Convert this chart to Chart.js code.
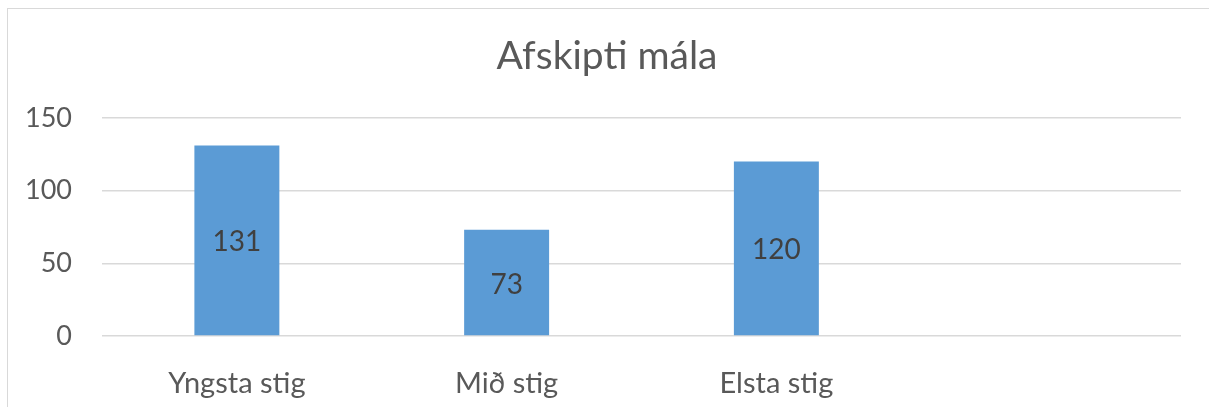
<!DOCTYPE html>
<html>
<head>
<meta charset="utf-8">
<script src="https://cdn.jsdelivr.net/npm/chart.js@4/dist/chart.umd.min.js"></script>
<style>
    html, body { margin: 0; padding: 0; background: #fff; }
    #wrap { position: relative; width: 1209px; height: 407px; overflow: hidden; }
    #frame {
        position: absolute; left: 7px; top: 8px; width: 1230px; height: 430px;
        border: 1.5px solid #d9d9d9; pointer-events: none;
    }
</style>
</head>
<body>
<div id="wrap">
    <canvas id="reportChart" width="1209" height="407"></canvas>
    <div id="frame"></div>
</div>
<script>
// Chart data
const chartTitle = 'Afskipti mála';
const categories = ['Yngsta stig', 'Mið stig', 'Elsta stig', ''];
const values = [131, 73, 120, null];
const yTicks = [0, 50, 100, 150];

const fontFamily = 'Lato, "Open Sans", sans-serif';
const textColor = '#595959';

// Draw the value in the middle of each bar
const barValueLabels = {
    id: 'barValueLabels',
    afterDatasetsDraw(chart) {
        const ctx = chart.ctx;
        const meta = chart.getDatasetMeta(0);
        ctx.save();
        ctx.font = '28px ' + fontFamily;
        ctx.fillStyle = '#404040';
        ctx.textAlign = 'center';
        ctx.textBaseline = 'middle';
        meta.data.forEach((bar, i) => {
            if (values[i] == null) return;
            const { x, y, base } = bar.getProps(['x', 'y', 'base'], true);
            ctx.fillText(String(values[i]), x, (y + base) / 2 + 2);
        });
        ctx.restore();
    }
};

const ctx = document.getElementById('reportChart').getContext('2d');
new Chart(ctx, {
    type: 'bar',
    data: {
        labels: categories,
        datasets: [{
            label: chartTitle,
            data: values,
            backgroundColor: '#5b9bd5',
            borderWidth: 0,
            categoryPercentage: 1,
            barPercentage: 0.315
        }]
    },
    options: {
        responsive: false,
        animation: false,
        layout: { padding: { top: 5, right: 0, bottom: 0, left: 5 } },
        plugins: {
            legend: { display: false },
            tooltip: { enabled: false },
            title: {
                display: true,
                text: chartTitle,
                color: textColor,
                font: { family: fontFamily, size: 39, weight: 'normal' },
                padding: { top: 28, bottom: 38 }
            }
        },
        scales: {
            x: {
                grid: { display: false },
                border: { display: false },
                ticks: {
                    color: textColor,
                    font: { family: fontFamily, size: 29 },
                    padding: 22,
                    maxRotation: 0
                },
                afterFit(scale) { scale.height = 71; }
            },
            y: {
                min: 0,
                max: 150,
                afterBuildTicks(scale) { scale.ticks = yTicks.map(v => ({ value: v })); },
                grid: { color: '#d9d9d9', lineWidth: 1.5, drawTicks: false },
                border: { display: false },
                ticks: {
                    color: textColor,
                    font: { family: fontFamily, size: 27 },
                    padding: 30
                },
                afterFit(scale) { scale.width = 97; }
            },
            // empty right-hand axis, only keeps space on the right of the plot
            yRight: {
                position: 'right',
                grid: { display: false },
                border: { display: false },
                ticks: { display: false },
                afterFit(scale) { scale.width = 28; }
            }
        }
    },
    plugins: [barValueLabels]
});
</script>
</body>
</html>
